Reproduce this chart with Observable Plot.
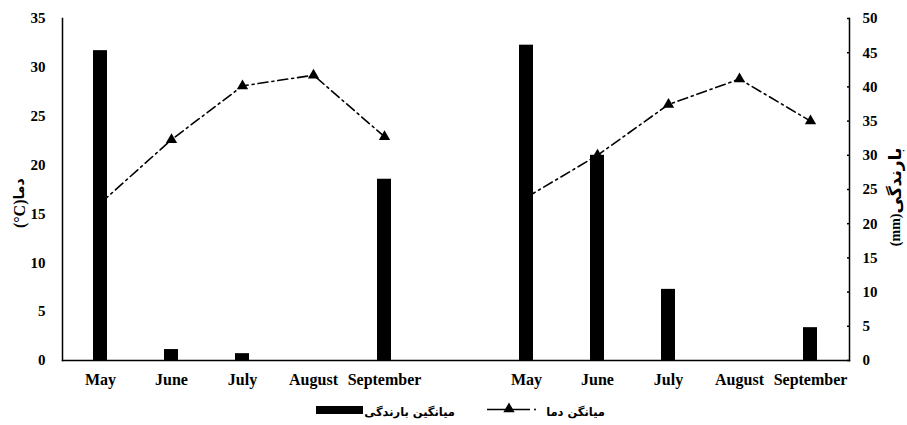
<!DOCTYPE html>
<html>
<head>
<meta charset="utf-8">
<script src="https://cdn.jsdelivr.net/npm/d3@7"></script>
<script src="https://cdn.jsdelivr.net/npm/@observablehq/plot@0.6"></script>
<style>
  body { margin: 0; background: #fff; }
  #chart { width: 907px; }
</style>
</head>
<body>
<div id="chart"></div>
<script>
// ---- data ----
const months = ["May", "June", "July", "August", "September"];
const groups = ["A", "B"];
const rainA = [45.3, 1.6, 1.0, 0, 26.5];   // mm
const rainB = [46.1, 30.0, 10.4, 0, 4.8];  // mm
const tempA = [16.1, 22.6, 28.1, 29.2, 22.9]; // °C
const tempB = [16.7, 21.0, 26.2, 28.8, 24.5]; // °C
const tempTicks = [0, 5, 10, 15, 20, 25, 30, 35];
const rainTicks = [0, 5, 10, 15, 20, 25, 30, 35, 40, 45, 50];
const leftLabelAr = "دما";
const leftLabelUnit = "(°C)";
const rightLabelAr = "بارندگی";
const rightLabelUnit = "(mm)";
const legendRain = "میانگین بارندگی";
const legendTemp = "میانگن دما";

const k = 35 / 50; // rain -> temperature axis
const rows = [];
groups.forEach((g, gi) => {
  const r = gi === 0 ? rainA : rainB;
  const t = gi === 0 ? tempA : tempB;
  months.forEach((m, i) => rows.push({ key: g + "-" + m, group: g, month: m, rain: r[i], temp: t[i] }));
});
const domain = [...months.map(m => "A-" + m), "gap", ...months.map(m => "B-" + m)];
const tickKeys = domain.filter(d => d !== "gap");

const serif = "'Liberation Serif', 'Times New Roman', serif";
const arabic = "'DejaVu Sans', sans-serif";

const plot = Plot.plot({
  width: 907,
  height: 392,
  marginTop: 18,
  marginBottom: 32,
  marginLeft: 62,
  marginRight: 58,
  style: { fontFamily: serif, fontWeight: "bold", fontSize: "15px", color: "black", background: "white" },
  x: { type: "band", domain, paddingInner: 0.8, paddingOuter: 0.4, label: null },
  y: { domain: [0, 35], label: null },
  marks: [
    Plot.line(rows, { x: "key", y: "temp", z: "group", stroke: "black", strokeWidth: 1.6, strokeDasharray: "10,4,2,4" }),
    Plot.dot(rows, { x: "key", y: "temp", symbol: "triangle", r: 4.2, fill: "black", stroke: "none" }),
    Plot.barY(rows, { x: "key", y: d => d.rain * k, fill: "black" }),
    Plot.frame({ anchor: "left", stroke: "black", strokeWidth: 1.5 }),
    Plot.frame({ anchor: "right", stroke: "black", strokeWidth: 1.5 }),
    Plot.frame({ anchor: "bottom", stroke: "black", strokeWidth: 1.5 }),
    Plot.axisX({ ticks: tickKeys, tickSize: 0, tickPadding: 13, fontSize: 16, tickFormat: d => d.split("-")[1] }),
    Plot.axisY({ ticks: tempTicks, anchor: "left", tickSize: 0, tickPadding: 17, label: null }),
    Plot.axisY({ ticks: rainTicks.map(t => t * k), anchor: "right", tickSize: 3, dx: -3, tickPadding: 13, strokeWidth: 1.5, label: null, tickFormat: d => Math.round(d / k) }),
    // left axis title: Arabic part above split point, unit below
    Plot.text([leftLabelAr], { frameAnchor: "left", dx: -43, dy: 10, rotate: -90, textAnchor: "start", text: d => d, fontFamily: arabic, fontSize: 14, fontWeight: "bold" }),
    Plot.text([leftLabelUnit], { frameAnchor: "left", dx: -43, dy: 10, rotate: -90, textAnchor: "end", text: d => d, fontFamily: serif, fontSize: 16, fontWeight: "bold", letterSpacing: 2 }),
    // right axis title
    Plot.text([rightLabelAr], { frameAnchor: "right", dx: 46, dy: 24, rotate: -90, textAnchor: "start", text: d => d, fontFamily: arabic, fontSize: 17, fontWeight: "bold" }),
    Plot.text([rightLabelUnit], { frameAnchor: "right", dx: 46, dy: 24, rotate: -90, textAnchor: "end", text: d => d, fontFamily: serif, fontSize: 14, fontWeight: "bold" })
  ]
});
document.getElementById("chart").appendChild(plot);

// ---- legend below the plot ----
const lg = d3.create("svg").attr("width", 907).attr("height", 33).style("display", "block");
lg.append("rect").attr("x", 316).attr("y", 14).attr("width", 47).attr("height", 8).attr("fill", "black");
lg.append("text").attr("x", 455).attr("y", 24).attr("text-anchor", "end")
  .attr("font-family", arabic).attr("font-weight", "bold").attr("font-size", 11.5).text(legendRain);
lg.append("line").attr("x1", 487).attr("x2", 530).attr("y1", 17.5).attr("y2", 17.5).attr("stroke", "black").attr("stroke-width", 1.6);
lg.append("path").attr("transform", "translate(509,17)").attr("d", d3.symbol(d3.symbolTriangle, 55)()).attr("fill", "black");
lg.append("circle").attr("cx", 535).attr("cy", 17.5).attr("r", 1).attr("fill", "black");
lg.append("text").attr("x", 605).attr("y", 24).attr("text-anchor", "end")
  .attr("font-family", arabic).attr("font-weight", "bold").attr("font-size", 11.5).text(legendTemp);
document.getElementById("chart").appendChild(lg.node());
</script>
</body>
</html>
